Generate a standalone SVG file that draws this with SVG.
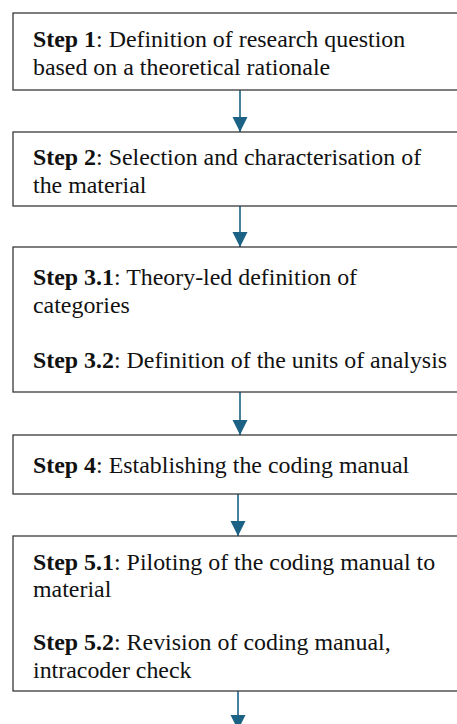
<svg xmlns="http://www.w3.org/2000/svg" width="457" height="724" viewBox="0 0 457 724">
<style>
.box{fill:#fff;stroke:#3a3a3a;stroke-width:1.3}
.c{stroke:#1b6285;stroke-width:1.6;fill:none}
</style>
<defs>
<marker id="ah2" markerWidth="16" markerHeight="16" refX="15" refY="8" orient="auto" markerUnits="userSpaceOnUse" viewBox="0 0 16 16">
<path d="M0,0.5 L15,8 L0,15.5 Z" fill="#1b6285"/>
</marker>
</defs>
<rect width="457" height="724" fill="#fff"/>
<g id="connectors">
<line class="c" x1="240" y1="90" x2="240" y2="132" marker-end="url(#ah2)"/>
<line class="c" x1="240" y1="206" x2="240" y2="247" marker-end="url(#ah2)"/>
<line class="c" x1="240" y1="392" x2="240" y2="435" marker-end="url(#ah2)"/>
<line class="c" x1="238" y1="494" x2="238" y2="536" marker-end="url(#ah2)"/>
<line class="c" x1="238" y1="691" x2="238" y2="730" marker-end="url(#ah2)"/>
</g>
<g font-family="'Liberation Serif', 'Times New Roman', serif" font-size="23.9" fill="#111">
<g id="step1">
<rect class="box" x="13" y="13" width="460" height="77"/>
<text x="33" y="47"><tspan font-weight="bold">Step 1</tspan>: Definition of research question</text>
<text x="33" y="75">based on a theoretical rationale</text>
</g>
<g id="step2">
<rect class="box" x="13" y="132" width="460" height="74"/>
<text x="33" y="165"><tspan font-weight="bold">Step 2</tspan>: Selection and characterisation of</text>
<text x="33" y="193">the material</text>
</g>
<g id="step3">
<rect class="box" x="13" y="247" width="460" height="145"/>
<text x="33" y="285"><tspan font-weight="bold">Step 3.1</tspan>: Theory-led definition of</text>
<text x="33" y="313">categories</text>
<text x="33" y="368"><tspan font-weight="bold">Step 3.2</tspan>: Definition of the units of analysis</text>
</g>
<g id="step4">
<rect class="box" x="13" y="435" width="460" height="59"/>
<text x="33" y="473"><tspan font-weight="bold">Step 4</tspan>: Establishing the coding manual</text>
</g>
<g id="step5">
<rect class="box" x="13" y="536" width="460" height="155"/>
<text x="33" y="570"><tspan font-weight="bold">Step 5.1</tspan>: Piloting of the coding manual to</text>
<text x="33" y="597">material</text>
<text x="33" y="650"><tspan font-weight="bold">Step 5.2</tspan>: Revision of coding manual,</text>
<text x="33" y="678">intracoder check</text>
</g>
</g>
</svg>
